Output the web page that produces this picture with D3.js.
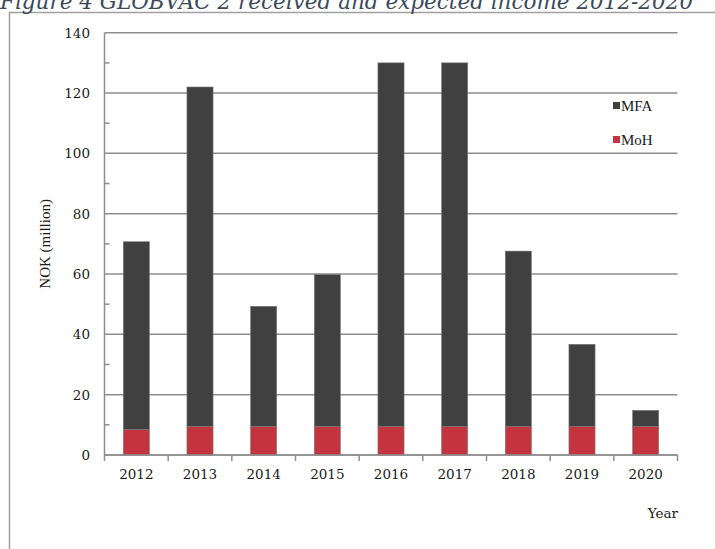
<html><head><meta charset="utf-8">
<style>
  body { margin: 0; background: #fff; }
  svg text { font-family: "DejaVu Serif", "Liberation Serif", serif; }
</style>
</head><body><div id="chartContainer"></div>
<script src="https://d3js.org/d3.v7.min.js"></script>
<script type="text/javascript">

// chart values (NOK million)
var years = ["2012", "2013", "2014", "2015", "2016", "2017", "2018", "2019", "2020"];
var moh = [8.5, 9.5, 9.5, 9.5, 9.5, 9.5, 9.5, 9.5, 9.5];
var mfa = [62.2, 112.5, 39.8, 50.3, 120.5, 120.5, 58.1, 27.2, 5.3];
var yTicks = [0, 20, 40, 60, 80, 100, 120, 140];

var W = 715, H = 549;
var svg = d3.select("#chartContainer").append("svg")
    .attr("width", W).attr("height", H);

var rows = years.map(function (y, i) { return { year: y, MoH: moh[i], MFA: mfa[i] }; });
var stacked = d3.stack().keys(["MoH", "MFA"])(rows);
var colors = { MoH: "#c3343f", MFA: "#404040" };

// plot area (note: "top" would clash with window.top)
var pLeft = 104.5, pRight = 677.5, pTop = 32.7, pBottom = 455;

var x = d3.scaleBand().domain(years).range([pLeft, pRight])
    .paddingInner(0.59).paddingOuter(0.295);
var y = d3.scaleLinear().domain([0, 140]).range([pBottom, pTop]);

// outer frame (top and left edges)
svg.append("path")
    .attr("d", "M9.5,549 L9.5,12.5 L716,12.5")
    .attr("fill", "none").attr("stroke", "#a0a0a0").attr("stroke-width", 1.5);

// title, partly cut by the top edge
svg.append("text")
    .attr("x", 0).attr("y", 9)
    .style("font-style", "italic")
    .style("font-size", "21.5px")
    .style("fill", "#3c4a5c")
    .text("Figure 4 GLOBVAC 2 received and expected income 2012-2020");

// gridlines
svg.append("g").selectAll("line").data(yTicks).join("line")
    .attr("x1", pLeft).attr("x2", pRight)
    .attr("y1", function (d) { return y(d); }).attr("y2", function (d) { return y(d); })
    .attr("stroke", "#8e8e8e").attr("stroke-width", 1.5);

// minor ticks
svg.append("g").selectAll("line").data(d3.range(10, 140, 20)).join("line")
    .attr("x1", pLeft).attr("x2", pLeft + 5)
    .attr("y1", function (d) { return y(d); }).attr("y2", function (d) { return y(d); })
    .attr("stroke", "#8e8e8e").attr("stroke-width", 1.5);

// y tick labels
svg.append("g").selectAll("text").data(yTicks).join("text")
    .attr("x", 90).attr("y", function (d) { return y(d) + 5; })
    .style("text-anchor", "end")
    .style("font-size", "13.5px")
    .style("fill", "#1a1a1a")
    .text(function (d) { return d; });

// bars
svg.append("g").selectAll("g").data(stacked).join("g")
    .attr("fill", function (s) { return colors[s.key]; })
    .selectAll("rect").data(function (s) { return s; }).join("rect")
    .attr("x", function (d) { return x(d.data.year); })
    .attr("width", x.bandwidth())
    .attr("y", function (d) { return y(d[1]); })
    .attr("height", function (d) { return y(d[0]) - y(d[1]); })
    .attr("stroke", "#7a7a7a").attr("stroke-width", 0.6);

// axes lines
svg.append("line")
    .attr("x1", pLeft).attr("x2", pLeft).attr("y1", pTop).attr("y2", pBottom)
    .attr("stroke", "#8e8e8e").attr("stroke-width", 1.5);
svg.append("line")
    .attr("x1", pLeft).attr("x2", pRight).attr("y1", pBottom).attr("y2", pBottom)
    .attr("stroke", "#8e8e8e").attr("stroke-width", 1.5);

// x ticks at category boundaries
svg.append("g").selectAll("line").data(d3.range(years.length + 1)).join("line")
    .attr("x1", function (i) { return pLeft + i * x.step(); })
    .attr("x2", function (i) { return pLeft + i * x.step(); })
    .attr("y1", pBottom).attr("y2", pBottom + 6)
    .attr("stroke", "#8e8e8e").attr("stroke-width", 1.5);

// x tick labels
svg.append("g").selectAll("text").data(years).join("text")
    .attr("x", function (d) { return x(d) + x.bandwidth() / 2; })
    .attr("y", 479)
    .style("text-anchor", "middle")
    .style("font-size", "13.5px")
    .style("fill", "#1a1a1a")
    .text(function (d) { return d; });

// axis titles
svg.append("text")
    .attr("transform", "translate(50," + ((pTop + pBottom) / 2) + ") rotate(-90)")
    .style("text-anchor", "middle")
    .style("font-family", "Liberation Serif")
    .style("font-size", "15px")
    .style("fill", "#1a1a1a")
    .text("NOK (million)");

svg.append("text")
    .attr("x", 678).attr("y", 518)
    .style("text-anchor", "end")
    .style("font-size", "13.5px")
    .style("fill", "#1a1a1a")
    .text("Year");

// legend
var legend = [{ key: "MFA", y: 102 }, { key: "MoH", y: 136 }];
var lg = svg.append("g").selectAll("g").data(legend).join("g")
    .attr("transform", function (d) { return "translate(613," + d.y + ")"; });
lg.append("rect").attr("width", 7).attr("height", 7)
    .attr("fill", function (d) { return colors[d.key]; });
lg.append("text").attr("x", 8).attr("y", 8.5)
    .style("font-family", "Liberation Serif")
    .style("font-size", "15px")
    .style("fill", "#1a1a1a")
    .text(function (d) { return d.key; });

</script>
</body></html>
